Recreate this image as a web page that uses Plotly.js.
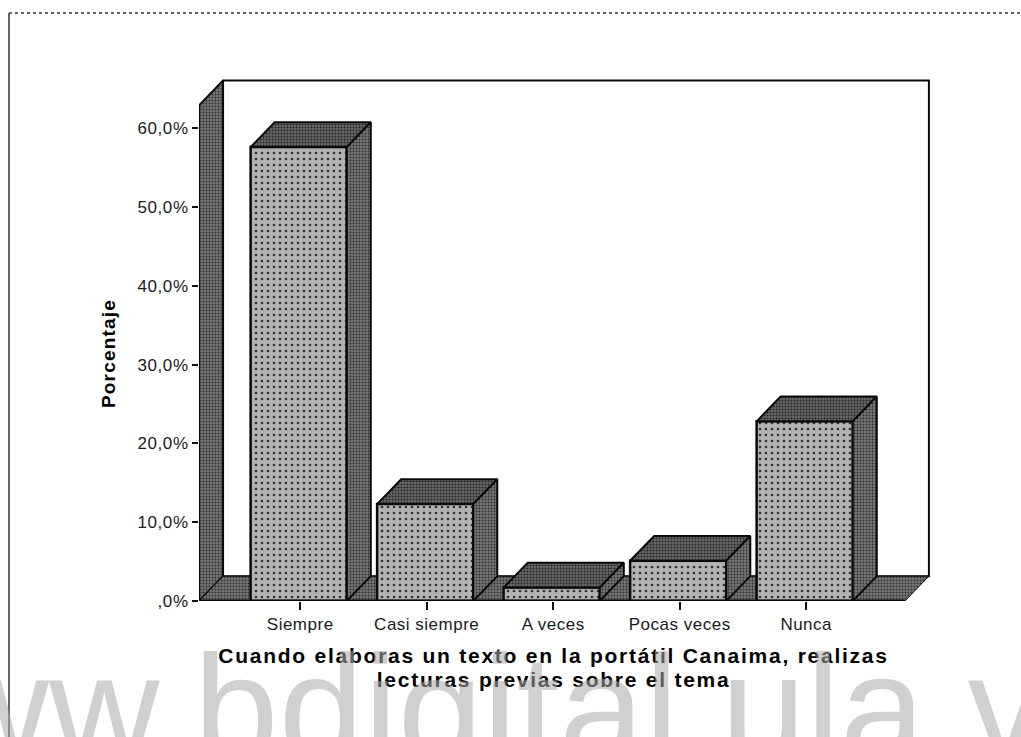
<!DOCTYPE html>
<html>
<head>
<meta charset="utf-8">
<script src="https://cdn.plot.ly/plotly-3.0.1.min.js"></script>
<style>
html,body{margin:0;padding:0;background:#fff;overflow:hidden}
#c{width:1021px;height:737px}
.xtitle{letter-spacing:1.75px}
.ytitle{letter-spacing:1.2px}
.g-xtitle{transform:translateX(-12px)}
.g-ytitle{transform:translateY(14px)}
.xtick text{letter-spacing:.5px}
.ytick text{letter-spacing:.6px}
g.annotation[data-index="0"] text{letter-spacing:1.75px}
</style>
</head>
<body>
<div id="c"></div>
<script>
const categories = ["Siempre", "Casi siempre", "A veces", "Pocas veces", "Nunca"];
const values = [57.6, 12.3, 1.7, 5.1, 22.8];
const yTickVals = [0, 10, 20, 30, 40, 50, 60];
const yTickText = [",0%", "10,0%", "20,0%", "30,0%", "40,0%", "50,0%", "60,0%"];
const xTitleLine1 = "Cuando elaboras un texto en la portátil Canaima, realizas";
const xTitleLine2 = "lecturas previas sobre el tema";
const yTitle = "Porcentaje";
const watermark = "www.bdigital.ula.ve";

const W = 1021, H = 737;
const L = 199, R = 932, T = 78, B = 601;
const xMin = -0.8, xMax = xMin + (R - L) / 126.5;
const yMin = 0, yMax = (B - T) / 7.88;
const barW = 0.76, barShift = -0.012, dx = 0.19, dy = 3.15;
const floorEnd = 4.78, wallTop = 62.9;

const darkPat = {shape: ".", bgcolor: "#767676", fgcolor: "#2e2e2e", size: 3, solidity: 0.3};
const topPat = {shape: ".", bgcolor: "#686868", fgcolor: "#222222", size: 3, solidity: 0.35};
const frontPat = {shape: ".", bgcolor: "#b2b2b2", fgcolor: "#333333", size: 6, solidity: 0.16};

function poly(xs, ys, pat, axes, lw) {
  return Object.assign({
    type: "scatter", mode: "lines", x: xs.concat(xs[0]), y: ys.concat(ys[0]),
    fill: "toself", fillcolor: pat.bgcolor, fillpattern: pat,
    line: {color: "#0a0a0a", width: lw || 2}, hoverinfo: "skip", showlegend: false, cliponaxis: false
  }, axes);
}
const back = {xaxis: "x", yaxis: "y"}, over = {xaxis: "x2", yaxis: "y2"};
const traces = [];
// back wall, left wall, floor
traces.push(poly([xMin + dx, floorEnd + dx, floorEnd + dx, xMin + dx], [dy, dy, wallTop + dy, wallTop + dy],
  {shape: "", bgcolor: "#ffffff"}, back));
traces.push(poly([xMin, xMin + dx, xMin + dx, xMin], [0, dy, wallTop + dy, wallTop], darkPat, back));
traces.push(poly([xMin, floorEnd, floorEnd + dx, xMin + dx], [0, 0, dy, dy], darkPat, back, 1));
// front faces
traces.push({
  type: "bar", x: categories.map((c, i) => i + barShift), y: values, width: barW, xaxis: "x2", yaxis: "y2",
  marker: {color: frontPat.bgcolor, pattern: frontPat, line: {color: "#0a0a0a", width: 2.5}},
  hoverinfo: "skip", showlegend: false
});
// top and side faces
values.forEach((v, i) => {
  const a = i + barShift - barW / 2, b = i + barShift + barW / 2;
  traces.push(poly([a, b, b + dx, a + dx], [v, v, v + dy, v + dy], topPat, over));
  traces.push(poly([b, b + dx, b + dx, b], [0, dy, v + dy, v], darkPat, over));
});
// heavy baseline
traces.push({type: "scatter", mode: "lines", x: [xMin, floorEnd], y: [0, 0], xaxis: "x2", yaxis: "y2",
  line: {color: "#0a0a0a", width: 3}, hoverinfo: "skip", showlegend: false, cliponaxis: false});

const fam = "Liberation Sans, Arial, sans-serif";
const tickFont = {family: fam, size: 17, color: "#1a1a1a"};
const titleFont = {family: fam, size: 21, color: "#000"};
const px = v => (v - L) / (R - L), py = v => (B - v) / (B - T);
const layout = {
  width: W, height: H, autosize: false, paper_bgcolor: "#fff", plot_bgcolor: "rgba(0,0,0,0)",
  margin: {l: L, r: W - R, t: T, b: H - B}, showlegend: false,
  xaxis: {
    range: [xMin, xMax], tickmode: "array", tickvals: categories.map((c, i) => i), ticktext: categories,
    ticks: "outside", ticklen: 8, tickwidth: 2, tickcolor: "#111", tickfont: tickFont,
    showgrid: false, zeroline: false, showline: false, fixedrange: true,
    title: {text: "<b>" + xTitleLine1 + "</b>", font: titleFont, standoff: 14}
  },
  yaxis: {
    range: [yMin, yMax], tickmode: "array", tickvals: yTickVals, ticktext: yTickText,
    ticks: "outside", ticklen: 6, tickwidth: 2, tickcolor: "#111", tickfont: tickFont,
    showgrid: false, zeroline: false, showline: false, fixedrange: true,
    title: {text: "<b>" + yTitle + "</b>", font: {family: fam, size: 19, color: "#000"}, standoff: 16}
  },
  xaxis2: {range: [xMin, xMax], overlaying: "x", visible: false, fixedrange: true},
  yaxis2: {range: [yMin, yMax], overlaying: "y", visible: false, fixedrange: true},
  shapes: [
    {type: "line", xref: "paper", yref: "paper", x0: px(9), x1: px(9), y0: py(737), y1: py(13), line: {color: "#333", width: 1.5}},
    {type: "line", xref: "paper", yref: "paper", x0: px(9), x1: px(1021), y0: py(13), y1: py(13), line: {color: "#666", width: 2, dash: "dot"}}
  ],
  annotations: [{
    text: "<b>" + xTitleLine2 + "</b>", xref: "paper", yref: "paper", x: px(553), y: py(679),
    xanchor: "center", yanchor: "middle", showarrow: false, font: titleFont
  }, {
    text: watermark, xref: "paper", yref: "paper", x: px(478), y: py(765),
    xanchor: "center", yanchor: "bottom", yshift: -30, showarrow: false,
    font: {family: fam, size: 153, color: "rgba(170,170,170,0.55)"}
  }]
};
Plotly.newPlot("c", traces, layout, {displayModeBar: false, staticPlot: true});
</script>
</body>
</html>
